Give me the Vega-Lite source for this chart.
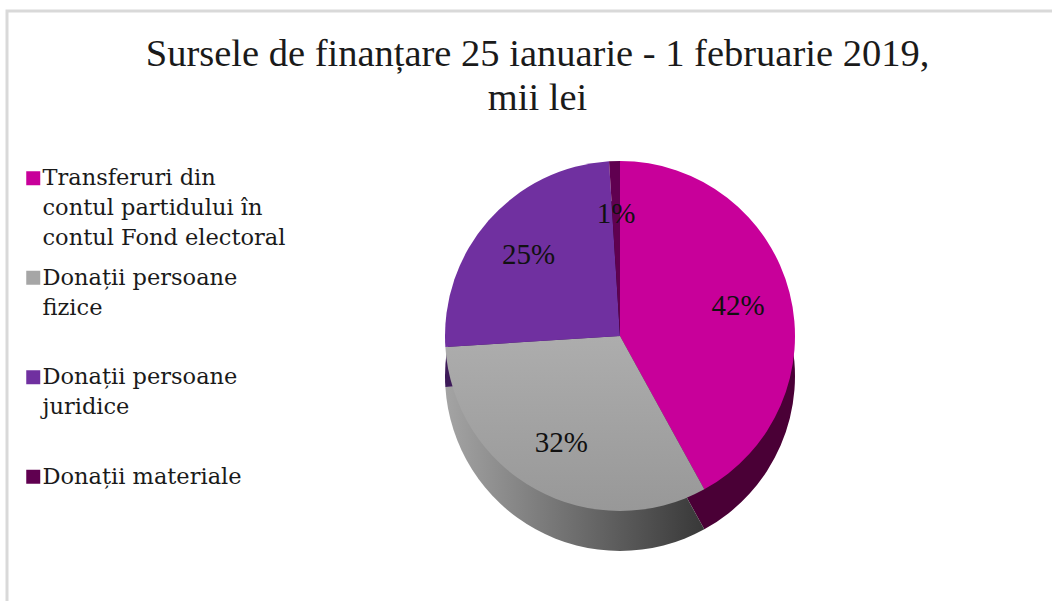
{
  "$schema": "https://vega.github.io/schema/vega-lite/v6.json",
  "width": 1045,
  "height": 590,
  "autosize": {"type": "none"},
  "padding": {"left": 7, "top": 11, "right": 0, "bottom": 0},
  "background": "white",
  "view": {"stroke": "#d9d9d9", "strokeWidth": 3, "strokeDash": [1045, 1635, 590], "fill": "white"},
  "config": {
    "style": {"guide-label": {"lineHeight": 30, "dy": 7}}
  },
  "title": {
    "text": ["Sursele de finanțare 25 ianuarie - 1 februarie 2019,", "mii lei"],
    "anchor": "start",
    "frame": "group",
    "align": "center",
    "dx": 530.5,
    "offset": -107,
    "font": "Liberation Serif",
    "fontSize": 38.5,
    "fontWeight": "normal",
    "color": "#1a1a1a",
    "lineHeight": 44
  },
  "data": {
    "values": [
      {"cat": "Transferuri din contul partidului în contul Fond electoral", "pct": 0.42, "ord": 1},
      {"cat": "Donații persoane fizice", "pct": 0.32, "ord": 2},
      {"cat": "Donații persoane juridice", "pct": 0.25, "ord": 3},
      {"cat": "Donații materiale", "pct": 0.01, "ord": 4}
    ]
  },
  "layer": [
    {
      "mark": {"type": "arc", "radius": 175, "xOffset": 90.5, "yOffset": 70, "strokeWidth": 0},
      "encoding": {
        "theta": {"field": "pct", "type": "quantitative", "stack": true},
        "order": {"field": "ord", "type": "quantitative"},
        "color": {
          "condition": {
            "test": "datum.cat === 'Donații persoane fizice'",
            "value": {"gradient": "linear", "x1": 0, "y1": 0, "x2": 1, "y2": 0, "stops": [{"offset": 0, "color": "#a4a4a4"}, {"offset": 1, "color": "#383838"}]}
          },
          "field": "cat",
          "type": "nominal",
          "scale": {
            "domain": ["Transferuri din contul partidului în contul Fond electoral", "Donații persoane fizice", "Donații persoane juridice", "Donații materiale"],
            "range": ["#4a0036", "#5a5a5a", "#3d1a58", "#300028"]
          },
          "legend": null
        }
      }
    },
    {
      "mark": {"type": "arc", "radius": 175, "xOffset": 90.5, "yOffset": 30, "strokeWidth": 0},
      "encoding": {
        "theta": {"field": "pct", "type": "quantitative", "stack": true},
        "order": {"field": "ord", "type": "quantitative"},
        "color": {
          "condition": {
            "test": "datum.cat === 'Donații persoane fizice'",
            "value": {"gradient": "linear", "x1": 0, "y1": 0, "x2": 0, "y2": 1, "stops": [{"offset": 0, "color": "#adadad"}, {"offset": 1, "color": "#989898"}]}
          },
          "field": "cat",
          "type": "nominal",
          "scale": {
            "domain": ["Transferuri din contul partidului în contul Fond electoral", "Donații persoane fizice", "Donații persoane juridice", "Donații materiale"],
            "range": ["#c8009a", "#a6a6a6", "#7030a0", "#600050"]
          },
          "legend": {
            "orient": "none",
            "legendX": 15,
            "legendY": 156,
            "padding": 0,
            "title": null,
            "symbolType": "square",
            "symbolSize": 196,
            "symbolStrokeWidth": 0,
            "labelFont": "DejaVu Serif",
            "labelFontSize": 22.5,
            "labelColor": "#1a1a1a",
            "labelLimit": 400,
            "gridAlign": "all",
            "rowPadding": 16.5,
            "labelBaseline": "alphabetic",
            "labelOffset": -2,
            "labelExpr": "datum.label == 'Transferuri din contul partidului în contul Fond electoral' ? ['Transferuri din', 'contul partidului în', 'contul Fond electoral'] : datum.label == 'Donații persoane fizice' ? ['Donații persoane', 'fizice'] : datum.label == 'Donații persoane juridice' ? ['Donații persoane', 'juridice'] : datum.label"
          }
        }
      }
    },
    {
      "mark": {"type": "text", "radius": 122, "xOffset": 90.5, "yOffset": 30, "font": "Liberation Serif", "fontSize": 29, "color": "#111111"},
      "encoding": {
        "theta": {"field": "pct", "type": "quantitative", "stack": true},
        "order": {"field": "ord", "type": "quantitative"},
        "text": {"field": "pct", "type": "quantitative", "format": ".0%"}
      }
    }
  ],
  "resolve": {"scale": {"color": "independent"}}
}
